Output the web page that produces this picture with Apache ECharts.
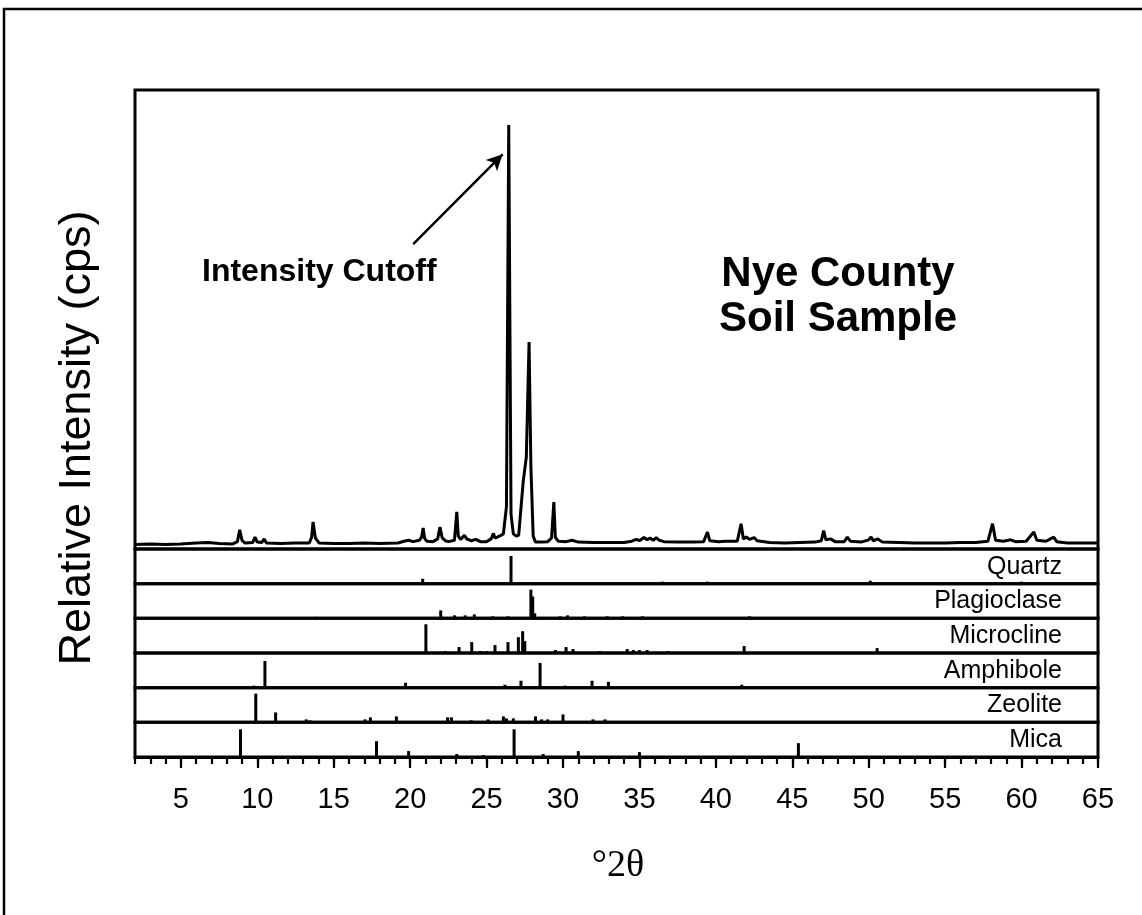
<!DOCTYPE html>
<html>
<head>
<meta charset="utf-8">
<script src="https://cdn.jsdelivr.net/npm/echarts@6/dist/echarts.min.js"></script>
<style>
html,body{margin:0;padding:0;background:#fff;}
#chart{width:1142px;height:915px;}
</style>
</head>
<body>
<div id="chart"></div>
<script>
// ---------- DATA ----------
// Measured XRD pattern (2theta, relative intensity, arbitrary 0-100 scale)
const patternTheta = [2.0,3.0,4.0,5.0,6.0,6.8,7.5,8.4,8.7,8.85,9.0,9.2,9.7,9.85,10.0,10.3,10.45,10.6,11.5,12.5,13.4,13.55,13.65,13.8,13.9,14.05,15,16,17,18,19.2,19.6,19.9,20.2,20.6,20.75,20.85,20.95,21.1,21.5,21.8,21.95,22.1,22.3,22.5,22.9,23.05,23.15,23.3,23.55,23.7,24.0,24.3,24.6,25.0,25.3,25.45,25.55,25.7,25.9,26.1,26.3,26.45,26.6,26.75,26.95,27.1,27.4,27.6,27.78,27.9,28.05,28.2,28.6,29.0,29.25,29.4,29.5,29.7,30.2,30.6,31.0,32,33,34,34.5,34.8,35.0,35.3,35.5,35.7,35.9,36.1,36.3,36.6,37.5,38.5,39.2,39.45,39.6,40.2,40.6,41.4,41.65,41.8,42.0,42.2,42.5,42.7,43.5,44.5,45.5,46.5,46.9,47.05,47.2,47.5,47.8,48.4,48.6,48.8,49.5,50.0,50.15,50.3,50.6,50.9,52,53,54,55,56,57,57.8,58.1,58.3,58.8,59.3,59.6,60.3,60.8,61.0,61.6,62.1,62.3,63,64,65];
const patternIntensity = [1.0,1.1,1.0,1.1,1.3,1.4,1.2,1.1,1.6,4.2,1.9,1.3,1.4,2.6,1.5,1.4,2.2,1.3,1.2,1.3,1.3,2.5,5.9,2.4,2.3,1.3,1.2,1.2,1.3,1.2,1.3,1.7,1.9,1.6,1.9,2.6,4.6,2.3,1.7,1.6,2.2,4.8,2.4,1.8,1.6,1.9,8.1,2.8,2.1,3.0,2.2,1.8,2.1,1.6,1.6,2.2,3.4,2.4,2.6,2.9,3.3,9.2,92.4,7.6,3.3,2.8,3.0,14.8,20.0,45.1,17.9,2.8,1.5,1.5,1.6,2.4,10.2,2.5,1.7,1.6,1.9,1.5,1.4,1.4,1.4,1.7,2.1,1.8,2.5,2.0,2.4,1.9,2.5,1.9,1.6,1.5,1.5,1.6,3.7,1.8,1.6,1.7,1.7,5.5,2.2,2.6,2.1,2.5,1.8,1.4,1.3,1.4,1.5,1.8,4.0,2.0,2.2,1.6,1.6,2.6,1.7,1.5,2.0,2.6,1.8,2.2,1.5,1.4,1.3,1.3,1.3,1.4,1.4,1.7,5.5,1.9,1.7,2.0,1.6,1.7,3.7,1.9,1.7,2.6,1.6,1.3,1.3,1.3];

// Reference stick patterns: [2theta, relative height (strip full height = 35)]
const quartz = [[20.82,5],[26.6,28],[36.5,2],[39.45,2],[42.4,1],[45.8,1],[50.1,3],[54.9,1],[60.0,2]];
const plagioclase = [[13.88,1.5],[22.0,8],[22.9,3],[23.6,3],[24.2,4],[25.4,2],[26.4,2],[27.9,29],[28.02,22],[28.15,5],[29.8,2],[30.3,3],[31.4,2],[32.9,2],[33.9,2],[35.2,2],[36.8,1],[40.3,1],[42.2,2],[45.2,1],[48.5,1],[50.7,1],[53.3,1],[55.4,1],[58.6,1],[61.3,1],[63.8,1]];
const microcline = [[13.1,1],[13.6,1],[21.03,29],[22.3,2],[23.2,6],[24.03,11],[24.6,2],[25.0,2],[25.55,8],[26.4,11],[27.08,16],[27.36,22],[27.5,12],[29.5,3],[30.2,6],[30.66,4],[32.4,2],[34.2,4],[34.6,3],[35.0,3],[35.5,3],[36.9,2],[38.5,1],[40.5,1],[41.85,7],[44.5,1],[46.4,1],[47.5,1],[49.0,1],[50.55,5]];
const amphibole = [[9.78,2],[10.5,27],[19.7,5],[21.4,1],[26.2,3],[27.25,7],[28.5,25],[30.13,2],[31.9,7],[32.97,6],[35.5,1],[38.6,1],[41.7,3],[44.0,1],[47.1,1]];
const zeolite = [[9.9,29],[11.2,10],[13.2,3],[13.45,2],[14.95,1],[17.05,3],[17.4,5],[19.1,6],[22.45,5],[22.7,5],[24.0,2],[25.1,3],[26.1,6],[26.3,4],[26.75,4],[28.2,6],[28.6,3],[29.0,3],[30.0,8],[31.96,3],[32.75,3]];
const mica = [[8.9,28],[17.8,16],[19.9,6],[23.05,3],[24.8,2],[26.8,28],[28.7,3],[31.0,6],[35.0,5],[45.4,14]];

const stripNames = ['Quartz','Plagioclase','Microcline','Amphibole','Zeolite','Mica'];
const stripData = [quartz, plagioclase, microcline, amphibole, zeolite, mica];

const xMajorTicks = [5,10,15,20,25,30,35,40,45,50,55,60,65];
const xMinorTicks = [2,3,4,5,6,7,8,9,10,11,12,13,14,15,16,17,18,19,20,21,22,23,24,25,26,27,28,29,30,31,32,33,34,35,36,37,38,39,40,41,42,43,44,45,46,47,48,49,50,51,52,53,54,55,56,57,58,59,60,61,62,63,64,65];

// ---------- LAYOUT ----------
const X_MIN = 2, X_MAX = 65;
const LEFT = 135, RIGHT = 1142 - 1098;
const MAIN_TOP = 90, MAIN_H = 459;
const STRIP_H = 34.67;
const FONT = '"Liberation Sans", Arial, Helvetica, sans-serif';

const grids = [];
const xAxes = [];
const yAxes = [];
const series = [];
const graphics = [];

grids.push({left: LEFT, right: RIGHT, top: MAIN_TOP, height: MAIN_H, show: true, borderColor: '#000', borderWidth: 3, backgroundColor: 'transparent'});
xAxes.push({type: 'value', gridIndex: 0, min: X_MIN, max: X_MAX, show: false});
yAxes.push({type: 'value', gridIndex: 0, min: 0, max: 100, show: false});

const pattern = patternTheta.map((t, i) => [t, patternIntensity[i]]);
series.push({
  type: 'line', xAxisIndex: 0, yAxisIndex: 0, data: pattern, showSymbol: false,
  lineStyle: {color: '#000', width: 3}, silent: true,
  markLine: {
    silent: true, symbol: ['none', 'arrow'], symbolSize: [12, 16],
    lineStyle: {color: '#000', width: 2.5, type: 'solid'}, label: {show: false},
    data: [[{coord: [20.2, 66.4]}, {coord: [26.05, 86.0]}]]
  }
});

for (let i = 0; i < 6; i++) {
  const top = MAIN_TOP + MAIN_H + i * STRIP_H;
  grids.push({left: LEFT, right: RIGHT, top: top, height: STRIP_H, show: true, borderColor: '#000', borderWidth: 3, backgroundColor: 'transparent'});
  const last = i === 5;
  xAxes.push({
    type: 'value', gridIndex: i + 1, min: X_MIN, max: X_MAX, show: last,
    splitLine: {show: false},
    axisLine: {show: true, lineStyle: {color: '#000', width: 3}},
    axisTick: {show: true, length: 11, lineStyle: {color: '#000', width: 2.2}, customValues: xMajorTicks},
    axisLabel: {show: true, customValues: xMajorTicks, color: '#000', fontSize: 29, fontFamily: FONT, margin: 28}
  });
  yAxes.push({type: 'value', gridIndex: i + 1, min: 0, max: 35, show: false});
  series.push({
    type: 'bar', xAxisIndex: i + 1, yAxisIndex: i + 1, data: stripData[i],
    barWidth: 3, itemStyle: {color: '#000'}, silent: true
  });
  graphics.push({
    type: 'text', right: 1142 - 1062, top: top + STRIP_H / 2 - 12,
    style: {text: stripNames[i], fill: '#000', font: '25px ' + FONT}
  });
}
// minor ticks axis on the bottom strip
xAxes.push({
  type: 'value', gridIndex: 6, min: X_MIN, max: X_MAX, position: 'bottom',
  splitLine: {show: false},
  axisLine: {show: false},
  axisTick: {show: true, length: 7, lineStyle: {color: '#000', width: 2.2}, customValues: xMinorTicks},
  axisLabel: {show: false}
});

// Texts
graphics.push({
  type: 'text', left: 202, top: 256,
  style: {text: 'Intensity Cutoff', fill: '#000', font: 'bold 32px ' + FONT}
});
graphics.push({
  type: 'text', x: 838, y: 274,
  style: {text: 'Nye County', fill: '#000', font: 'bold 42px ' + FONT, textAlign: 'center', textVerticalAlign: 'middle'}
});
graphics.push({
  type: 'text', x: 838, y: 319,
  style: {text: 'Soil Sample', fill: '#000', font: 'bold 42px ' + FONT, textAlign: 'center', textVerticalAlign: 'middle'}
});
graphics.push({
  type: 'text', x: 78, y: 438, rotation: Math.PI / 2,
  style: {text: 'Relative Intensity (cps)', fill: '#000', font: '45px ' + FONT, textAlign: 'center', textVerticalAlign: 'middle'}
});
graphics.push({
  type: 'text', x: 618, y: 866,
  style: {text: '°2θ', fill: '#000', font: '38px "Liberation Serif", "Times New Roman", serif', textAlign: 'center', textVerticalAlign: 'middle'}
});
// outer frame (only top and left edges are visible in the picture)
graphics.push({
  type: 'rect', shape: {x: 4, y: 9, width: 1300, height: 1100},
  style: {fill: 'none', stroke: '#000', lineWidth: 2.5}, silent: true
});

const chart = echarts.init(document.getElementById('chart'));
chart.setOption({
  animation: false,
  backgroundColor: '#fff',
  grid: grids,
  xAxis: xAxes,
  yAxis: yAxes,
  series: series,
  graphic: graphics
});
</script>
</body>
</html>
